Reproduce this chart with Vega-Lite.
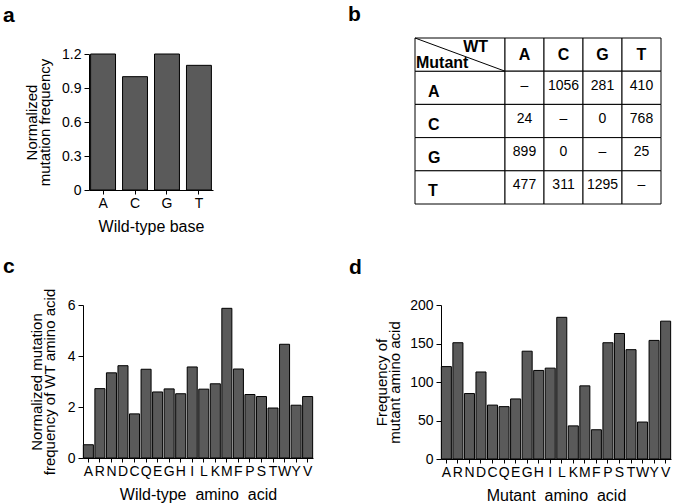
{
  "$schema": "https://vega.github.io/schema/vega-lite/v6.json",
  "padding": {"left": 3, "top": 3, "right": 0, "bottom": 0},
  "background": "white",
  "datasets": {
    "bases": [
      {"base": "A", "frequency": 1.2},
      {"base": "C", "frequency": 1.0},
      {"base": "G", "frequency": 1.2},
      {"base": "T", "frequency": 1.1}
    ],
    "mutants": [{"mutant": "A"}, {"mutant": "C"}, {"mutant": "G"}, {"mutant": "T"}],
    "wtHeader": [{"wt": "A"}, {"wt": "C"}, {"wt": "G"}, {"wt": "T"}],
    "counts": [
      {"mutant": "A", "wt": "A", "count": "–"},
      {"mutant": "A", "wt": "C", "count": "1056"},
      {"mutant": "A", "wt": "G", "count": "281"},
      {"mutant": "A", "wt": "T", "count": "410"},
      {"mutant": "C", "wt": "A", "count": "24"},
      {"mutant": "C", "wt": "C", "count": "–"},
      {"mutant": "C", "wt": "G", "count": "0"},
      {"mutant": "C", "wt": "T", "count": "768"},
      {"mutant": "G", "wt": "A", "count": "899"},
      {"mutant": "G", "wt": "C", "count": "0"},
      {"mutant": "G", "wt": "G", "count": "–"},
      {"mutant": "G", "wt": "T", "count": "25"},
      {"mutant": "T", "wt": "A", "count": "477"},
      {"mutant": "T", "wt": "C", "count": "311"},
      {"mutant": "T", "wt": "G", "count": "1295"},
      {"mutant": "T", "wt": "T", "count": "–"}
    ],
    "wtAA": [
      {"aa": "A", "freq": 0.52}, {"aa": "R", "freq": 2.72}, {"aa": "N", "freq": 3.34},
      {"aa": "D", "freq": 3.62}, {"aa": "C", "freq": 1.73}, {"aa": "Q", "freq": 3.48},
      {"aa": "E", "freq": 2.59}, {"aa": "G", "freq": 2.71}, {"aa": "H", "freq": 2.52},
      {"aa": "I", "freq": 3.57}, {"aa": "L", "freq": 2.7}, {"aa": "K", "freq": 2.91},
      {"aa": "M", "freq": 5.87}, {"aa": "F", "freq": 3.49}, {"aa": "P", "freq": 2.49},
      {"aa": "S", "freq": 2.41}, {"aa": "T", "freq": 1.96}, {"aa": "W", "freq": 4.46},
      {"aa": "Y", "freq": 2.07}, {"aa": "V", "freq": 2.41}
    ],
    "mutAA": [
      {"aa": "A", "freq": 120}, {"aa": "R", "freq": 151}, {"aa": "N", "freq": 85},
      {"aa": "D", "freq": 113}, {"aa": "C", "freq": 70}, {"aa": "Q", "freq": 68},
      {"aa": "E", "freq": 78}, {"aa": "G", "freq": 140}, {"aa": "H", "freq": 115},
      {"aa": "I", "freq": 118}, {"aa": "L", "freq": 184}, {"aa": "K", "freq": 43},
      {"aa": "M", "freq": 95}, {"aa": "F", "freq": 38}, {"aa": "P", "freq": 151},
      {"aa": "S", "freq": 163}, {"aa": "T", "freq": 142}, {"aa": "W", "freq": 48},
      {"aa": "Y", "freq": 154}, {"aa": "V", "freq": 179}
    ]
  },
  "spacing": 22,
  "vconcat": [
    {
      "spacing": 135,
      "hconcat": [
        {
          "title": {"text": "a", "dx": -80, "offset": 12},
          "width": 130,
          "height": 152,
          "data": {"name": "bases"},
          "mark": {"type": "bar", "fill": "#5a5a5a", "stroke": "black", "strokeWidth": 1},
          "encoding": {
            "x": {"field": "base", "type": "nominal", "sort": null,
                  "scale": {"range": [6, 130], "paddingInner": 0.22, "paddingOuter": 0.05},
                  "axis": {"title": "Wild-type base", "labelAngle": 0}},
            "y": {"field": "frequency", "type": "quantitative",
                  "scale": {"domain": [0, 1.2], "nice": false, "range": [152, 16]},
                  "axis": {"title": ["Normalized", "mutation frequency"], "values": [0, 0.3, 0.6, 0.9, 1.2], "format": ".1~f", "offset": -6, "titlePadding": 9}}
          }
        },
        {
          "title": {"text": "b", "dx": -157, "offset": 13},
          "width": 156,
          "height": 166,
          "resolve": {"scale": {"x": "independent", "y": "independent"}},
          "layer": [
            {
              "layer": [
                {
                  "data": {"name": "mutants"},
                  "mark": {"type": "rect", "fill": "white", "stroke": "black", "strokeWidth": 1},
                  "encoding": {
                    "x": {"datum": 0, "type": "quantitative", "scale": {"domain": [0, 1], "range": [-90, 0], "nice": false, "zero": false}, "axis": null},
                    "x2": {"datum": 1},
                    "y": {"field": "mutant", "type": "nominal",
                          "scale": {"domain": ["header", "A", "C", "G", "T"], "paddingInner": 0, "paddingOuter": 0},
                          "axis": null}
                  }
                },
                {
                  "data": {"values": [{}]},
                  "mark": {"type": "rect", "fill": "white", "stroke": "black", "strokeWidth": 1},
                  "encoding": {
                    "x": {"datum": 0, "type": "quantitative"},
                    "x2": {"datum": 1},
                    "y": {"datum": "header", "type": "nominal"}
                  }
                },
                {
                  "data": {"name": "mutants"},
                  "mark": {"type": "text", "align": "left", "baseline": "middle", "dx": 13, "dy": 4, "fontSize": 16, "fontWeight": "bold", "color": "black"},
                  "encoding": {
                    "x": {"datum": 0, "type": "quantitative"},
                    "y": {"field": "mutant", "type": "nominal"},
                    "text": {"field": "mutant", "type": "nominal"}
                  }
                },
                {
                  "data": {"values": [{}]},
                  "mark": {"type": "text", "text": "WT", "align": "right", "baseline": "middle", "dx": -17, "dy": -8, "fontSize": 16, "fontWeight": "bold", "color": "black"},
                  "encoding": {
                    "x": {"datum": 1, "type": "quantitative"},
                    "y": {"datum": "header", "type": "nominal"}
                  }
                },
                {
                  "data": {"values": [{}]},
                  "mark": {"type": "text", "text": "Mutant", "align": "left", "baseline": "middle", "dx": 1, "dy": 8, "fontSize": 16, "fontWeight": "bold", "color": "black"},
                  "encoding": {
                    "x": {"datum": 0, "type": "quantitative"},
                    "y": {"datum": "header", "type": "nominal"}
                  }
                }
              ]
            },
            {
              "layer": [
                {
                  "data": {"name": "wtHeader"},
                  "mark": {"type": "rect", "fill": "white", "stroke": "black", "strokeWidth": 1},
                  "encoding": {
                    "x": {"field": "wt", "type": "nominal", "scale": {"domain": ["A", "C", "G", "T"], "paddingInner": 0, "paddingOuter": 0}, "axis": null},
                    "y": {"datum": "header", "type": "nominal", "scale": {"domain": ["header", "A", "C", "G", "T"], "paddingInner": 0, "paddingOuter": 0}, "axis": null}
                  }
                },
                {
                  "data": {"name": "counts"},
                  "mark": {"type": "rect", "fill": "white", "stroke": "black", "strokeWidth": 1},
                  "encoding": {
                    "x": {"field": "wt", "type": "nominal"},
                    "y": {"field": "mutant", "type": "nominal"}
                  }
                },
                {
                  "data": {"name": "wtHeader"},
                  "mark": {"type": "text", "align": "center", "baseline": "middle", "fontSize": 16, "fontWeight": "bold", "color": "black"},
                  "encoding": {
                    "x": {"field": "wt", "type": "nominal"},
                    "y": {"datum": "header", "type": "nominal"},
                    "text": {"field": "wt", "type": "nominal"}
                  }
                },
                {
                  "data": {"name": "counts"},
                  "mark": {"type": "text", "align": "center", "baseline": "middle", "dy": -2, "fontSize": 14, "color": "black"},
                  "encoding": {
                    "x": {"field": "wt", "type": "nominal"},
                    "y": {"field": "mutant", "type": "nominal"},
                    "text": {"field": "count", "type": "nominal"}
                  }
                }
              ]
            },
            {
              "data": {"values": [{}]},
              "mark": {"type": "rule", "stroke": "black", "strokeWidth": 1},
              "encoding": {
                "x": {"datum": 0, "type": "quantitative", "scale": {"domain": [0, 1], "range": [-90, 0], "nice": false, "zero": false}, "axis": null},
                "x2": {"datum": 1},
                "y": {"datum": 5, "type": "quantitative", "scale": {"domain": [0, 5], "nice": false}, "axis": null},
                "y2": {"datum": 4}
              }
            }
          ]
        }
      ]
    },
    {
      "spacing": 35,
      "hconcat": [
        {
          "title": {"text": "c", "dx": -80, "offset": 11},
          "width": 230,
          "height": 153,
          "data": {"name": "wtAA"},
          "mark": {"type": "bar", "fill": "#5a5a5a", "stroke": "black", "strokeWidth": 1},
          "encoding": {
            "x": {"field": "aa", "type": "nominal", "sort": null,
                  "scale": {"paddingInner": 0.13, "paddingOuter": 0.03},
                  "axis": {"title": "Wild-type\u00a0 amino\u00a0 acid", "labelAngle": 0}},
            "y": {"field": "freq", "type": "quantitative",
                  "scale": {"domain": [0, 6], "nice": false},
                  "axis": {"title": ["Normalized mutation", "frequency of WT amino acid"], "values": [0, 2, 4, 6], "titlePadding": 10}}
          }
        },
        {
          "title": {"text": "d", "dx": -92, "offset": 20},
          "width": 230,
          "height": 154,
          "data": {"name": "mutAA"},
          "mark": {"type": "bar", "fill": "#5a5a5a", "stroke": "black", "strokeWidth": 1},
          "encoding": {
            "x": {"field": "aa", "type": "nominal", "sort": null,
                  "scale": {"paddingInner": 0.13, "paddingOuter": 0.03},
                  "axis": {"title": "Mutant\u00a0 amino\u00a0 acid", "labelAngle": 0}},
            "y": {"field": "freq", "type": "quantitative",
                  "scale": {"domain": [0, 200], "nice": false},
                  "axis": {"title": ["Frequency of", "mutant amino acid"], "values": [0, 50, 100, 150, 200]}}
          }
        }
      ]
    }
  ],
  "config": {
    "font": "Liberation Sans",
    "view": {"stroke": null},
    "title": {"fontSize": 21, "fontWeight": "bold", "anchor": "start", "frame": "group", "color": "black", "font": "Liberation Sans"},
    "text": {"font": "Liberation Sans"},
    "axis": {
      "grid": false,
      "domainColor": "black",
      "tickColor": "black",
      "labelColor": "black",
      "titleColor": "black",
      "labelFont": "Liberation Sans",
      "titleFont": "Liberation Sans",
      "labelFontSize": 14,
      "titleFontSize": 15,
      "titleFontWeight": "normal",
      "titleLineHeight": 13,
      "tickSize": 5,
      "labelPadding": 3,
      "titlePadding": 7
    },
    "axisX": {"titleFontSize": 16, "tickSize": 4, "labelPadding": 2, "titlePadding": 8}
  }
}
